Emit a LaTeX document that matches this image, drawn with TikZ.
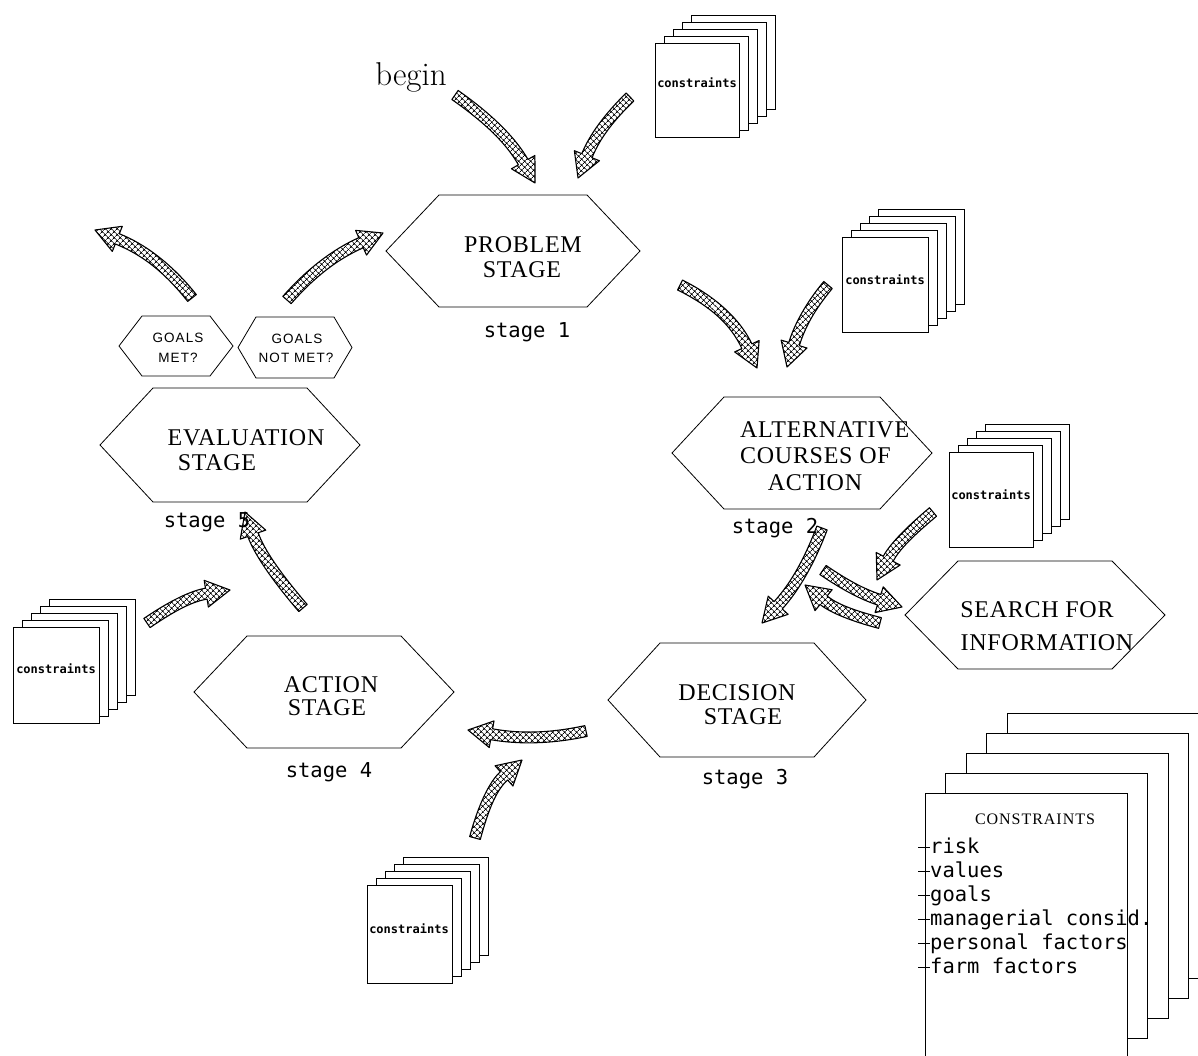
\documentclass[tikz,border=0pt]{standalone}
\usepackage{fontspec}
\usetikzlibrary{calc,patterns.meta}
\newfontfamily\serf{Liberation Serif}[LetterSpace=3]
\newfontfamily\serfc{Liberation Serif}[LetterSpace=6]
\newfontfamily\monof{DejaVu Sans Mono}
\newfontfamily\goalf{Liberation Sans}[LetterSpace=8]

\tikzset{
  hexa/.style={draw=black, line width=0.8pt, fill=white},
  arrowbody/.style={draw=black, line width=1.1pt, line join=round,
    pattern={Hatch[angle=45,distance=4pt,line width=0.8pt]}},
  pagebox/.style={draw=black, line width=0.8pt, fill=white},
  hextext/.style={font=\serf\fontsize{24}{26}\selectfont, anchor=base, inner sep=0pt},
  stagetext/.style={font=\monof\fontsize{20.5}{24}\selectfont, anchor=base, inner sep=0pt},
  ctext/.style={font=\monof\bfseries\fontsize{12}{14}\selectfont, inner sep=0pt},
  goaltext/.style={font=\goalf\fontsize{13.5}{16}\selectfont, anchor=base, inner sep=0pt},
  listtext/.style={font=\monof\fontsize{20.5}{24}\selectfont, anchor=base west, inner sep=0pt},
}

% hexagon: name, cx, cy, half width, half height, slant
\newcommand{\hexshape}[6]{%
  \draw[hexa] ({#2-#4},{#3}) -- ({#2-#4+#6},{#3-#5}) -- ({#2+#4-#6},{#3-#5})
    -- ({#2+#4},{#3}) -- ({#2+#4-#6},{#3+#5}) -- ({#2-#4+#6},{#3+#5}) -- cycle;
  \coordinate (#1) at (#2,#3);
}
% stack of pages: x, y (front top-left), w, h, dx, dy, n
\newcommand{\pagestack}[7]{%
  \foreach \k in {#7,...,1} {
    \draw[pagebox] ({#1+(\k-1)*#5},{#2+(\k-1)*#6}) rectangle ++(#3,#4);
  }
}
\newcommand{\aw}{5.5pt}
\newcommand{\ahw}{13.5pt}
\newcommand{\ahl}{24pt}
% hatched curved arrow: tail, control, tip (coordinate names)
\newcommand{\harrow}[3]{%
  \coordinate (arH) at ($(#3)!\ahl!(#2)$);
  \coordinate (arCa) at ($(#1)!0.667!(#2)$);
  \coordinate (arCb) at ($(arH)!0.667!(#2)$);
  \coordinate (arAa) at ($(#1)!\aw!90:(#2)$);
  \coordinate (arAb) at ($(#1)!\aw!-90:(#2)$);
  \coordinate (arHa) at ($(arH)!\aw!-90:(#2)$);
  \coordinate (arHb) at ($(arH)!\aw!90:(#2)$);
  \coordinate (arHL) at ($(arH)!\ahw!-90:(#2)$);
  \coordinate (arHR) at ($(arH)!\ahw!90:(#2)$);
  \draw[arrowbody] (arAa) .. controls ($(arCa)+(arAa)-(#1)$) and ($(arCb)+(arHa)-(arH)$) .. (arHa)
    -- (arHL) -- (#3) -- (arHR) -- (arHb)
    .. controls ($(arCb)+(arHb)-(arH)$) and ($(arCa)+(arAb)-(#1)$) .. (arAb) -- cycle;
}

\begin{document}
\begin{tikzpicture}[x=1pt,y=-1pt]
\useasboundingbox (0,0) rectangle (1198,1055);
\clip (0,0) rectangle (1198,1055);

% ---------- stacks of constraints ----------
\pagestack{655}{43}{84}{94}{9}{-7}{5}
\node[ctext] (ctop) at (697,83) {constraints};
\pagestack{842}{237}{86}{95}{9}{-7}{5}
\node[ctext] (cright) at (885,280) {constraints};
\pagestack{949}{452}{84}{95}{9}{-7}{5}
\node[ctext] (cstage) at (991,495) {constraints};
\pagestack{13}{627}{86}{96}{9}{-7}{5}
\node[ctext] (cleft) at (56,669) {constraints};
\pagestack{367}{885}{85}{98}{9}{-7}{5}
\node[ctext] (cbottom) at (409,929) {constraints};

% big stack
\pagestack{925}{793}{202}{265}{20.5}{-20}{5}
\node[font=\serfc\fontsize{16}{18}\selectfont, anchor=base, inner sep=0pt] (ctitle) at (1035,824) {CONSTRAINTS};
\foreach \yy/\txt/\nm in {853/risk/l1, 877/values/l2, 901/goals/l3, 925/managerial consid./l4, 949/personal factors/l5, 973/farm factors/l6}{
  \draw[line width=0.8pt] (918,\yy-6) -- (930,\yy-6);
  \node[listtext] (\nm) at (930,\yy) {\txt};
}

% ---------- hexagons ----------
\hexshape{prob}{513}{251}{127}{56}{53}
\node[hextext] (probA) at (523,252) {PROBLEM};
\node[hextext] (probB) at (522,277) {STAGE};
\node[stagetext] (s1) at (527,337) {stage 1};

\hexshape{alt}{802}{453}{130}{56}{52}
\node[hextext, anchor=base west] (altA) at (740,437) {ALTERNATIVE};
\node[hextext, anchor=base west] (altB) at (740,463) {COURSES OF};
\node[hextext] (altC) at (815,490) {ACTION};
\node[stagetext] (s2) at (775,533) {stage 2};

\hexshape{dec}{737}{700}{129}{57}{52}
\node[hextext] (decA) at (737,700) {DECISION};
\node[hextext] (decB) at (743,724) {STAGE};
\node[stagetext] (s3) at (745,784) {stage 3};

\hexshape{act}{324}{692}{130}{56}{53}
\node[hextext] (actA) at (331,692) {ACTION};
\node[hextext] (actB) at (327,715) {STAGE};
\node[stagetext] (s4) at (329,777) {stage 4};

\hexshape{eva}{230}{445}{130}{57}{53}
\node[hextext] (evaA) at (246,445) {EVALUATION};
\node[hextext] (evaB) at (217,470) {STAGE};
\node[stagetext] (s5) at (207,527) {stage 5};

\hexshape{sea}{1035}{615}{130}{54}{53}
\node[hextext] (seaA) at (1037,617) {SEARCH FOR};
\node[hextext] (seaB) at (1047,650) {INFORMATION};

\hexshape{gmet}{176}{346}{57}{30}{23}
\node[goaltext] (gmA) at (178,342) {GOALS};
\node[goaltext] (gmB) at (178,362) {MET?};
\hexshape{gnot}{295}{347.5}{57}{30.5}{18}
\node[goaltext] (gnA) at (297,343) {GOALS};
\node[goaltext] (gnB) at (296,362) {NOT MET?};

% begin
\node[font=\fontsize{33}{38}\selectfont, anchor=base, inner sep=0pt] (begin) at (411,85) {begin};

% ---------- arrows ----------
\coordinate (a1t) at (455,95);  \coordinate (a1c) at (505,130); \coordinate (a1h) at (535,183);
\coordinate (a2t) at (630,97);  \coordinate (a2c) at (598,128); \coordinate (a2h) at (578,178);
\coordinate (a3t) at (680,285); \coordinate (a3c) at (730,310); \coordinate (a3h) at (757,368);
\coordinate (a4t) at (828,285); \coordinate (a4c) at (803,315); \coordinate (a4h) at (787,367);
\coordinate (a5t) at (822,528); \coordinate (a5c) at (803,578); \coordinate (a5h) at (762,623);
\coordinate (a6t) at (933,512); \coordinate (a6c) at (897,542); \coordinate (a6h) at (877,580);
\coordinate (a7t) at (823,570); \coordinate (a7c) at (855,592); \coordinate (a7h) at (902,607);
\coordinate (a8t) at (880,623); \coordinate (a8c) at (838,612); \coordinate (a8h) at (805,585);
\coordinate (a9t) at (586,731); \coordinate (a9c) at (535,742); \coordinate (a9h) at (468,730);
\coordinate (a10t) at (475,838); \coordinate (a10c) at (488,790); \coordinate (a10h) at (522,760);
\coordinate (a11t) at (147,623); \coordinate (a11c) at (185,597); \coordinate (a11h) at (230,590);
\coordinate (a12t) at (303,608); \coordinate (a12c) at (262,560); \coordinate (a12h) at (245,512);
\coordinate (a13t) at (192,298); \coordinate (a13c) at (158,255); \coordinate (a13h) at (95,230);
\coordinate (a14t) at (287,300); \coordinate (a14c) at (322,260); \coordinate (a14h) at (383,233);

\harrow{a1t}{a1c}{a1h}
\harrow{a2t}{a2c}{a2h}
\harrow{a3t}{a3c}{a3h}
\harrow{a4t}{a4c}{a4h}
\harrow{a5t}{a5c}{a5h}
\harrow{a6t}{a6c}{a6h}
\harrow{a7t}{a7c}{a7h}
\harrow{a8t}{a8c}{a8h}
\harrow{a9t}{a9c}{a9h}
\harrow{a10t}{a10c}{a10h}
\harrow{a11t}{a11c}{a11h}
\harrow{a12t}{a12c}{a12h}
\harrow{a13t}{a13c}{a13h}
\harrow{a14t}{a14c}{a14h}
\end{tikzpicture}
\end{document}
